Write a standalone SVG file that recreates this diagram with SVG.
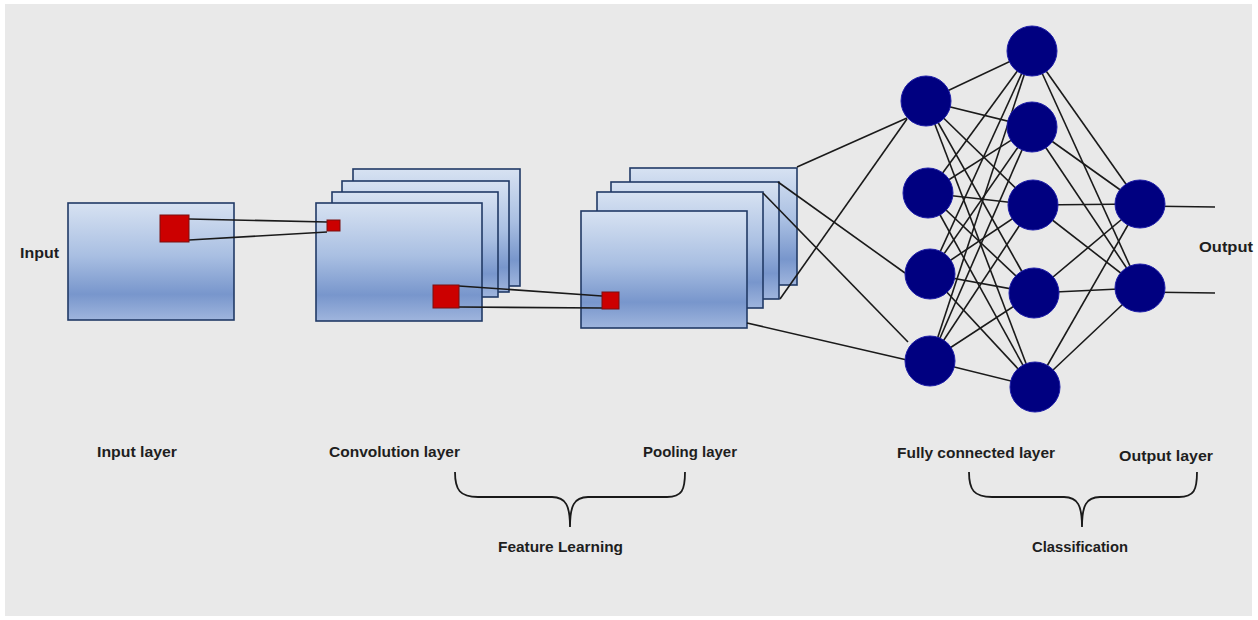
<svg xmlns="http://www.w3.org/2000/svg" width="1258" height="620" viewBox="0 0 1258 620">
<defs>
<linearGradient id="g" x1="0" y1="0" x2="0" y2="1">
<stop offset="0" stop-color="#d7e2f2"/>
<stop offset="0.45" stop-color="#a9bfe2"/>
<stop offset="0.78" stop-color="#7896cc"/>
<stop offset="1" stop-color="#9fb5dd"/>
</linearGradient>
<style>
.fm{fill:url(#g);stroke:#213a66;stroke-width:1.6}
.red{fill:#cc0000;stroke:#7a1010;stroke-width:1}
.nd{fill:#000080;stroke:#1d1da8;stroke-width:1}
.ln{stroke:#1a1a1a;stroke-width:1.6;fill:none}
.br{stroke:#1a1a1a;stroke-width:1.8;fill:none}
.t{font-family:"Liberation Sans",Arial,sans-serif;font-weight:bold;font-size:15px;fill:#1e1e1e}
</style>
</defs>
<rect x="0" y="0" width="1258" height="620" fill="#ffffff"/>
<rect x="5" y="4" width="1247" height="612" fill="#e9e9e9"/>

<g id="input-layer">
<rect class="fm" x="68" y="203" width="166" height="117"/>
</g>
<g id="conv-layer">
<rect class="fm" x="353" y="169" width="167" height="117"/>
<rect class="fm" x="342" y="181" width="167" height="111"/>
<rect class="fm" x="332" y="192" width="166" height="105"/>
<rect class="fm" x="316" y="203" width="166" height="118"/>
</g>
<g id="pooling-layer">
<rect class="fm" x="630" y="168" width="167" height="117"/>
<rect class="fm" x="611" y="182" width="168" height="117"/>
<rect class="fm" x="597" y="192" width="166" height="116"/>
<rect class="fm" x="581" y="211" width="166" height="117"/>
</g>

<g id="connectors">
<line class="ln" x1="189" y1="219" x2="327" y2="222"/>
<line class="ln" x1="189" y1="240" x2="327" y2="232"/>
<line class="ln" x1="459" y1="286" x2="602" y2="296"/>
<line class="ln" x1="459" y1="307" x2="602" y2="308"/>
<line class="ln" x1="797" y1="167" x2="907" y2="118"/>
<line class="ln" x1="778" y1="182" x2="905" y2="273"/>
<line class="ln" x1="763" y1="193" x2="908" y2="342"/>
<line class="ln" x1="780" y1="299" x2="907" y2="119"/>
<line class="ln" x1="747" y1="323" x2="907" y2="360"/>
<g id="fc-links">
<line class="ln" x1="926" y1="101" x2="1032" y2="51"/>
<line class="ln" x1="926" y1="101" x2="1032" y2="127"/>
<line class="ln" x1="926" y1="101" x2="1033" y2="205"/>
<line class="ln" x1="926" y1="101" x2="1034" y2="293"/>
<line class="ln" x1="926" y1="101" x2="1035" y2="387"/>
<line class="ln" x1="928" y1="193" x2="1032" y2="51"/>
<line class="ln" x1="928" y1="193" x2="1032" y2="127"/>
<line class="ln" x1="928" y1="193" x2="1033" y2="205"/>
<line class="ln" x1="928" y1="193" x2="1034" y2="293"/>
<line class="ln" x1="928" y1="193" x2="1035" y2="387"/>
<line class="ln" x1="930" y1="274" x2="1032" y2="51"/>
<line class="ln" x1="930" y1="274" x2="1032" y2="127"/>
<line class="ln" x1="930" y1="274" x2="1033" y2="205"/>
<line class="ln" x1="930" y1="274" x2="1034" y2="293"/>
<line class="ln" x1="930" y1="274" x2="1035" y2="387"/>
<line class="ln" x1="930" y1="361" x2="1032" y2="51"/>
<line class="ln" x1="930" y1="361" x2="1032" y2="127"/>
<line class="ln" x1="930" y1="361" x2="1033" y2="205"/>
<line class="ln" x1="930" y1="361" x2="1034" y2="293"/>
<line class="ln" x1="930" y1="361" x2="1035" y2="387"/>
<line class="ln" x1="1032" y1="51" x2="1140" y2="204"/>
<line class="ln" x1="1032" y1="127" x2="1140" y2="204"/>
<line class="ln" x1="1033" y1="205" x2="1140" y2="204"/>
<line class="ln" x1="1034" y1="293" x2="1140" y2="204"/>
<line class="ln" x1="1035" y1="387" x2="1140" y2="204"/>
<line class="ln" x1="1032" y1="51" x2="1140" y2="288"/>
<line class="ln" x1="1032" y1="127" x2="1140" y2="288"/>
<line class="ln" x1="1033" y1="205" x2="1140" y2="288"/>
<line class="ln" x1="1034" y1="293" x2="1140" y2="288"/>
<line class="ln" x1="1035" y1="387" x2="1140" y2="288"/>
<line class="ln" x1="1140" y1="206" x2="1215" y2="207"/>
<line class="ln" x1="1140" y1="292" x2="1215" y2="293"/>
</g>
</g>

<g id="input-kernel"><rect class="red" x="160" y="215" width="29" height="27"/></g>
<g id="conv-kernel-small"><rect class="red" x="327" y="220" width="13" height="11"/></g>
<g id="conv-kernel-large"><rect class="red" x="433" y="285" width="26" height="23"/></g>
<g id="pool-kernel"><rect class="red" x="602" y="292" width="17" height="17"/></g>

<g id="fc1-1"><ellipse class="nd" cx="926" cy="101" rx="25" ry="25"/></g>
<g id="fc1-2"><ellipse class="nd" cx="928" cy="193" rx="25" ry="25"/></g>
<g id="fc1-3"><ellipse class="nd" cx="930" cy="274" rx="25" ry="25"/></g>
<g id="fc1-4"><ellipse class="nd" cx="930" cy="361" rx="25" ry="25"/></g>
<g id="fc2-1"><ellipse class="nd" cx="1032" cy="51" rx="25" ry="25"/></g>
<g id="fc2-2"><ellipse class="nd" cx="1032" cy="127" rx="25" ry="25"/></g>
<g id="fc2-3"><ellipse class="nd" cx="1033" cy="205" rx="25" ry="25"/></g>
<g id="fc2-4"><ellipse class="nd" cx="1034" cy="293" rx="25" ry="25"/></g>
<g id="fc2-5"><ellipse class="nd" cx="1035" cy="387" rx="25" ry="25"/></g>
<g id="out-1"><ellipse class="nd" cx="1140" cy="204" rx="25" ry="24"/></g>
<g id="out-2"><ellipse class="nd" cx="1140" cy="288" rx="25" ry="24"/></g>

<g id="labels">
<text class="t" x="20" y="258" textLength="39" lengthAdjust="spacingAndGlyphs">Input</text>
<text class="t" x="1199" y="252" textLength="54" lengthAdjust="spacingAndGlyphs">Output</text>
<text class="t" x="97" y="457" textLength="80" lengthAdjust="spacingAndGlyphs">Input layer</text>
<text class="t" x="329" y="457" textLength="131" lengthAdjust="spacingAndGlyphs">Convolution layer</text>
<text class="t" x="643" y="457" textLength="94" lengthAdjust="spacingAndGlyphs">Pooling layer</text>
<text class="t" x="897" y="458" textLength="158" lengthAdjust="spacingAndGlyphs">Fully connected layer</text>
<text class="t" x="1119" y="461" textLength="94" lengthAdjust="spacingAndGlyphs">Output layer</text>
<text class="t" x="498" y="552" textLength="125" lengthAdjust="spacingAndGlyphs">Feature Learning</text>
<text class="t" x="1032" y="552" textLength="96" lengthAdjust="spacingAndGlyphs">Classification</text>
</g>

<g id="braces">
<path class="br" d="M455,472 C455,490 460,497 478,497 L552,497 C566,497 570,506 570,527 C570,506 574,497 588,497 L667,497 C682,497 685,490 685,472"/>
<path class="br" d="M969,472 C969,490 974,497 992,497 L1064,497 C1078,497 1082,506 1082,527 C1082,506 1086,497 1100,497 L1179,497 C1194,497 1197,490 1197,472"/>
</g>
</svg>
